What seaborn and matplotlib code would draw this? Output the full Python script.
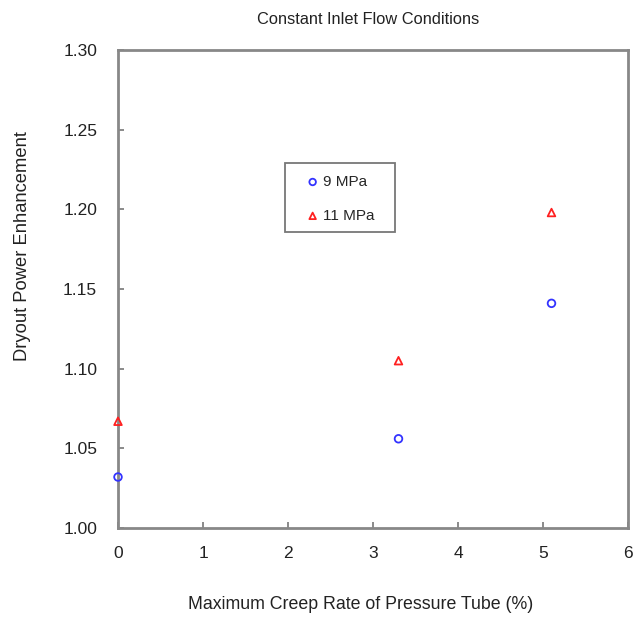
import matplotlib
matplotlib.use("Agg")
import matplotlib.pyplot as plt
from matplotlib.patches import Rectangle
import seaborn as sns
import pandas as pd

# Dryout power enhancement vs. maximum pressure-tube creep
creep = [0.0, 3.3, 5.1]
enh_9mpa = [1.032, 1.056, 1.141]
enh_11mpa = [1.067, 1.105, 1.198]
series = ["9 MPa", "11 MPa"]
x_ticks = [0, 1, 2, 3, 4, 5, 6]
y_ticks = [1.00, 1.05, 1.10, 1.15, 1.20, 1.25, 1.30]

df = pd.concat([
    pd.DataFrame({"creep": creep, "enh": enh_9mpa, "pressure": series[0]}),
    pd.DataFrame({"creep": creep, "enh": enh_11mpa, "pressure": series[1]}),
])

sns.set_style("white")
plt.rcParams["font.family"] = ["Liberation Sans", "DejaVu Sans"]

W, H = 636, 618
fig = plt.figure(figsize=(W / 100, H / 100), dpi=100)
ax = fig.add_axes([118 / W, 1 - 528 / H, 510 / W, 478 / H])


def ax_x(px):
    return (px - 118) / 510


def ax_y(py):
    return (528 - py) / 478


palette = {"9 MPa": "#3333ff", "11 MPa": "#ff2020"}
markers = {"9 MPa": "o", "11 MPa": "^"}
for name in series:
    sub = df[df["pressure"] == name]
    sns.scatterplot(data=sub, x="creep", y="enh", ax=ax, marker=markers[name],
                    s=30, facecolors="none", edgecolor=palette[name],
                    linewidth=1.3, label=name, clip_on=False, zorder=5)

ax.set_xlim(0, 6)
ax.set_ylim(1.00, 1.30)
ax.set_xticks(x_ticks)
ax.set_yticks(y_ticks)
ax.set_yticklabels([f"{v:.2f}" for v in y_ticks])
ax.tick_params(bottom=True, left=True, direction="in", length=4, width=1.2,
               color="#777777", labelsize=12.5, labelcolor="#222222")
ax.tick_params(axis="y", pad=15)
ax.tick_params(axis="x", pad=13)
for sp in ax.spines.values():
    sp.set_color("#888888")
    sp.set_linewidth(2)

ax.set_xlabel("Maximum Creep Rate of Pressure Tube (%)", fontsize=12.8,
              color="#222222")
ax.xaxis.set_label_coords(ax_x(361), ax_y(596))
ax.set_ylabel("Dryout Power Enhancement", fontsize=13.2, color="#222222")
ax.yaxis.set_label_coords(ax_x(31), ax_y(246))
fig.text(368 / W, 1 - 19 / H, "Constant Inlet Flow Conditions",
         fontsize=11.8, color="#222222", ha="center", va="center")

# legend box drawn separately so its padding can be set per side
ax.add_patch(Rectangle((ax_x(285), ax_y(232)), ax_x(395) - ax_x(285),
                       ax_y(163) - ax_y(232), transform=ax.transAxes,
                       facecolor="white", edgecolor="#777777", linewidth=1.3,
                       zorder=6))
leg = ax.legend(loc="upper left", bbox_to_anchor=(ax_x(305), ax_y(175)),
                frameon=False, fontsize=11, handletextpad=0.15,
                borderpad=0, labelspacing=1.3, handlelength=1.0,
                borderaxespad=0)
leg.set_zorder(7)
for h in leg.legend_handles:
    h.set_sizes([22])

fig.savefig("out.png", dpi=100)
